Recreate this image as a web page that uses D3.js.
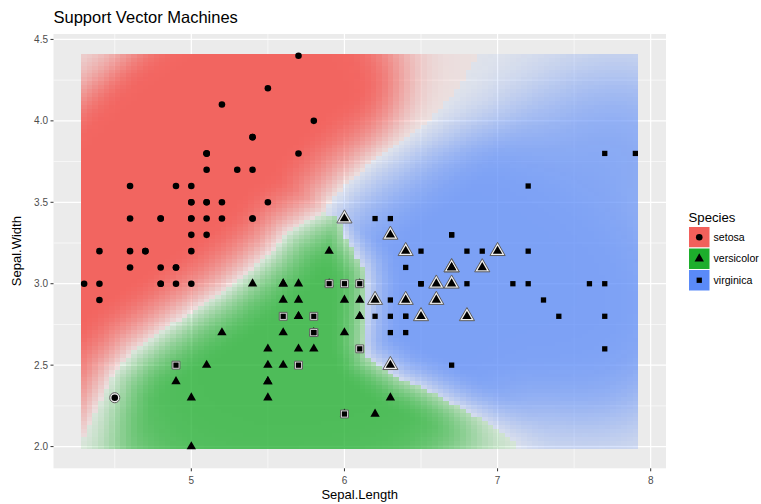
<!DOCTYPE html>
<html><head><meta charset="utf-8">
<script src="https://cdn.jsdelivr.net/npm/d3@7"></script>
<style>
body{margin:0;background:#fff}
svg{display:block}
text{font-family:"Liberation Sans",Arial,Helvetica,sans-serif}
</style>
</head><body>
<svg id="chart" width="761" height="504"></svg>
<script>
// ---- iris data (Sepal.Length / Sepal.Width) ----
const setosaLength = [5.1,4.9,4.7,4.6,5.0,5.4,4.6,5.0,4.4,4.9,5.4,4.8,4.8,4.3,5.8,5.7,5.4,5.1,5.7,5.1,5.4,5.1,4.6,5.1,4.8,5.0,5.0,5.2,5.2,4.7,4.8,5.4,5.2,5.5,4.9,5.0,5.5,4.9,4.4,5.1,5.0,4.5,4.4,5.0,5.1,4.8,5.1,4.6,5.3,5.0];
const setosaWidth  = [3.5,3.0,3.2,3.1,3.6,3.9,3.4,3.4,2.9,3.1,3.7,3.4,3.0,3.0,4.0,4.4,3.9,3.5,3.8,3.8,3.4,3.7,3.6,3.3,3.4,3.0,3.4,3.5,3.4,3.2,3.1,3.4,4.1,4.2,3.1,3.2,3.5,3.6,3.0,3.4,3.5,2.3,3.2,3.5,3.8,3.0,3.8,3.2,3.7,3.3];
const versicolorLength = [7.0,6.4,6.9,5.5,6.5,5.7,6.3,4.9,6.6,5.2,5.0,5.9,6.0,6.1,5.6,6.7,5.6,5.8,6.2,5.6,5.9,6.1,6.3,6.1,6.4,6.6,6.8,6.7,6.0,5.7,5.5,5.5,5.8,6.0,5.4,6.0,6.7,6.3,5.6,5.5,5.5,6.1,5.8,5.0,5.6,5.7,5.7,6.2,5.1,5.7];
const versicolorWidth  = [3.2,3.2,3.1,2.3,2.8,2.8,3.3,2.4,2.9,2.7,2.0,3.0,2.2,2.9,2.9,3.1,3.0,2.7,2.2,2.5,3.2,2.8,2.5,2.8,2.9,3.0,2.8,3.0,2.9,2.6,2.4,2.4,2.7,2.7,3.0,3.4,3.1,2.3,3.0,2.5,2.6,3.0,2.6,2.3,2.7,3.0,2.9,2.9,2.5,2.8];
const virginicaLength = [6.3,5.8,7.1,6.3,6.5,7.6,4.9,7.3,6.7,7.2,6.5,6.4,6.8,5.7,5.8,6.4,6.5,7.7,7.7,6.0,6.9,5.6,7.7,6.3,6.7,7.2,6.2,6.1,6.4,7.2,7.4,7.9,6.4,6.3,6.1,7.7,6.3,6.4,6.0,6.9,6.7,6.9,5.8,6.8,6.7,6.7,6.3,6.5,6.2,5.9];
const virginicaWidth  = [3.3,2.7,3.0,2.9,3.0,3.0,2.5,2.9,2.5,3.6,3.2,2.7,3.0,2.5,2.8,3.2,3.0,3.8,2.6,2.2,3.2,2.8,2.8,2.7,3.3,3.2,2.8,3.0,2.8,3.0,2.8,3.8,2.8,2.8,2.6,3.0,3.4,3.1,3.0,3.1,3.1,3.1,2.7,3.2,3.3,3.0,2.5,3.0,3.4,3.0];

// rows (1-based within species) drawn with an outline (misclassified by the SVM)
const setosaMisclassified = [42];
const versicolorMisclassified = [1,2,3,5,7,9,16,23,25,26,27,28,36,37,48];
const virginicaMisclassified = [2,7,14,15,20,22,28,35,39,43,50];

// decision boundaries [Sepal.Length, Sepal.Width]
const boundaryRedBlue = [[6.87,4.42],[6.76,4.21],[6.56,4.01],[6.44,3.92],[6.30,3.82],[6.15,3.72],[6.02,3.62],[5.91,3.51],[5.87,3.44]];
const boundaryRedGreen = [[5.87,3.44],[5.78,3.40],[5.63,3.31],[5.52,3.19],[5.37,3.07],[5.19,2.94],[4.99,2.82],[4.80,2.70],[4.62,2.58],[4.49,2.45],[4.39,2.25],[4.32,2.09],[4.26,1.98]];
const boundaryGreenBlue = [[5.87,3.44],[5.95,3.41],[6.02,3.25],[6.05,3.21],[6.12,3.10],[6.14,3.00],[6.13,2.80],[6.12,2.64],[6.15,2.55],[6.24,2.49],[6.37,2.41],[6.52,2.35],[6.69,2.27],[6.87,2.18],[7.00,2.10],[7.11,2.02],[7.14,1.98]];

const speciesNames = ["setosa","versicolor","virginica"];
const speciesColors = ["#F2605B","#1DAE2C","#5A8AF8"];
const xTicks = [5,6,7,8];
const yTicks = [2.0,2.5,3.0,3.5,4.0,4.5];
const gridSize = 100;

// ---- build ----
const species = [
  {name:"setosa", xs:setosaLength, ys:setosaWidth, mis:setosaMisclassified, shape:d3.symbolCircle},
  {name:"versicolor", xs:versicolorLength, ys:versicolorWidth, mis:versicolorMisclassified, shape:d3.symbolTriangle},
  {name:"virginica", xs:virginicaLength, ys:virginicaWidth, mis:virginicaMisclassified, shape:d3.symbolSquare}
];
const points = [];
species.forEach((s,k)=>s.xs.forEach((v,i)=>points.push({x:v,y:s.ys[i],k,mis:s.mis.includes(i+1)})));

const svg = d3.select("#chart");
const P = {l:53.5, r:666, t:34, b:468.3};
const allX = points.map(p=>p.x), allY = points.map(p=>p.y);
const xMin=d3.min(allX), xMax=d3.max(allX), yMin=d3.min(allY), yMax=d3.max(allY);
const xStep=(xMax-xMin)/(gridSize-1), yStep=(yMax-yMin)/(gridSize-1);
const xLo=xMin-xStep/2, xHi=xMax+xStep/2, yLo=yMin-yStep/2, yHi=yMax+yStep/2;
const xPad=0.05*(xHi-xLo), yPad=0.05*(yHi-yLo);
const x = d3.scaleLinear().domain([xLo-xPad,xHi+xPad]).range([P.l,P.r]);
const y = d3.scaleLinear().domain([yLo-yPad,yHi+yPad]).range([P.b,P.t]);

// panel background and grid
svg.append("rect").attr("x",P.l).attr("y",P.t).attr("width",P.r-P.l).attr("height",P.b-P.t).attr("fill","#EBEBEB");
const g = svg.append("g");
const minorX = xTicks.map(t=>t-0.5).filter(t=>t>x.domain()[0]);
const minorY = yTicks.map(t=>t-0.25).filter(t=>t>y.domain()[0]);
g.selectAll(".mx").data(minorX).join("line").attr("x1",d=>x(d)).attr("x2",d=>x(d)).attr("y1",P.t).attr("y2",P.b).attr("stroke","#fff").attr("stroke-width",0.6);
g.selectAll(".my").data(minorY).join("line").attr("y1",d=>y(d)).attr("y2",d=>y(d)).attr("x1",P.l).attr("x2",P.r).attr("stroke","#fff").attr("stroke-width",0.6);
g.selectAll(".Mx").data(xTicks).join("line").attr("x1",d=>x(d)).attr("x2",d=>x(d)).attr("y1",P.t).attr("y2",P.b).attr("stroke","#fff").attr("stroke-width",1.2);
g.selectAll(".My").data(yTicks).join("line").attr("y1",d=>y(d)).attr("y2",d=>y(d)).attr("x1",P.l).attr("x2",P.r).attr("stroke","#fff").attr("stroke-width",1.2);

// ---- decision surface tiles ----
const ky = 163.2/153; // pixel aspect between axes
function segDist(px,py,line){
  let best=Infinity;
  for(let i=0;i<line.length-1;i++){
    const ax=line[i][0], ay=line[i][1]*ky, bx=line[i+1][0], by=line[i+1][1]*ky;
    const qx=px, qy=py*ky;
    const dx=bx-ax, dy=by-ay;
    let t=((qx-ax)*dx+(qy-ay)*dy)/(dx*dx+dy*dy); t=Math.max(0,Math.min(1,t));
    const ex=ax+t*dx-qx, ey=ay+t*dy-qy;
    best=Math.min(best,Math.hypot(ex,ey));
  }
  return best;
}
const RB=boundaryRedBlue, RG=boundaryRedGreen, GB=boundaryGreenBlue;
const setosaPoly = [[3.5,5],[RB[0][0],5],...RB,...RG.slice(1),[RG[RG.length-1][0],1.5],[3.5,1.5]];
const versicolorPoly = [...RG,[RG[RG.length-1][0],1.5],[GB[GB.length-1][0],1.5],...GB.slice().reverse()];
const lines = {RB, RG, GB};
const model = [
  {amax:0.97, sigma:0.3, k:3.2, bounds:[["RB",0.45,0],["RG",0.4,0]]},
  {amax:0.76, sigma:0.33, k:0.9, bounds:[["RG",0.35,0],["GB",0.22,0.3]]},
  {amax:0.76, sigma:0.33, k:0.9, bounds:[["RB",0.55,0],["GB",0.25,0.15]]}
];
const ease = t=> t>=1?1:t*(2-t);
const tiles=[];
for(let i=0;i<gridSize;i++){
  for(let j=0;j<gridSize;j++){
    const tx=xMin+i*xStep, ty=yMin+j*yStep;
    let k = d3.polygonContains(setosaPoly,[tx,ty]) ? 0 : (d3.polygonContains(versicolorPoly,[tx,ty]) ? 1 : 2);
    const m=model[k];
    let bf=1;
    m.bounds.forEach(([name,w,b0])=>{ const d=segDist(tx,ty,lines[name]); bf=Math.min(bf, b0+(1-b0)*ease(d/w)); });
    let dens=0; const s2=2*m.sigma*m.sigma;
    points.forEach(p=>{ if(p.k===k){ const dx=p.x-tx, dy=p.y-ty; dens+=Math.exp(-(dx*dx+dy*dy)/s2);} });
    const df=1-Math.exp(-m.k*dens);
    const a=0.08+(m.amax-0.08)*bf*df;
    tiles.push({x:tx,y:ty,k,a});
  }
}
const tw = x(xStep)-x(0), th = y(0)-y(yStep);
svg.append("g").attr("shape-rendering","crispEdges")
  .selectAll("rect").data(tiles).join("rect")
  .attr("x",d=>x(d.x)-tw/2).attr("y",d=>y(d.y)-th/2).attr("width",tw).attr("height",th)
  .attr("fill",d=>speciesColors[d.k]).attr("fill-opacity",d=>d.a);

// ---- points ----
const sizeNormal=[34,38,28], sizeOuter=[80,100,62];
const pts = svg.append("g");
pts.selectAll("path.p").data(points).join("path")
  .attr("transform",d=>`translate(${x(d.x)},${y(d.y)})`)
  .attr("d",d=>d3.symbol(species[d.k].shape,sizeNormal[d.k])())
  .attr("fill","#000");
const mis = points.filter(p=>p.mis);
pts.selectAll("path.o").data(mis).join("path")
  .attr("transform",d=>`translate(${x(d.x)},${y(d.y)})`)
  .attr("d",d=>d3.symbol(species[d.k].shape,sizeOuter[d.k])())
  .attr("fill","#EEEEEE").attr("stroke","#5E5E5E").attr("stroke-width",1);
pts.selectAll("path.i").data(mis).join("path")
  .attr("transform",d=>`translate(${x(d.x)},${y(d.y)})`)
  .attr("d",d=>d3.symbol(species[d.k].shape,sizeNormal[d.k])())
  .attr("fill","#000");

// ---- axes ----
const ax = svg.append("g");
ax.selectAll(".yt").data(yTicks).join("line").attr("x1",P.l-3).attr("x2",P.l).attr("y1",d=>y(d)).attr("y2",d=>y(d)).attr("stroke","#333").attr("stroke-width",1);
ax.selectAll(".yl").data(yTicks).join("text").attr("x",P.l-5.5).attr("y",d=>y(d)+3.6).attr("text-anchor","end")
  .attr("font-size",10).attr("fill","#4D4D4D").text(d=>d3.format(".1f")(d));
ax.selectAll(".xt").data(xTicks).join("line").attr("y1",P.b).attr("y2",P.b+3).attr("x1",d=>x(d)).attr("x2",d=>x(d)).attr("stroke","#333").attr("stroke-width",1);
ax.selectAll(".xl").data(xTicks).join("text").attr("x",d=>x(d)).attr("y",P.b+15.5).attr("text-anchor","middle")
  .attr("font-size",10).attr("fill","#4D4D4D").text(d=>d3.format("d")(d));
svg.append("text").attr("x",(P.l+P.r)/2).attr("y",499).attr("text-anchor","middle").attr("font-size",13).attr("fill","#000").text("Sepal.Length");
svg.append("text").attr("transform",`translate(21,${(P.t+P.b)/2}) rotate(-90)`).attr("text-anchor","middle").attr("font-size",13).attr("fill","#000").text("Sepal.Width");
svg.append("text").attr("x",P.l).attr("y",22.7).attr("font-size",16.5).attr("fill","#000").text("Support Vector Machines");

// ---- legend ----
const L = {x:688.5, y:226.5, s:21.5};
svg.append("text").attr("x",L.x).attr("y",222).attr("font-size",13.2).attr("fill","#000").text("Species");
const lg = svg.append("g");
speciesNames.forEach((n,k)=>{
  const yy=L.y+k*L.s;
  lg.append("rect").attr("x",L.x).attr("y",yy).attr("width",L.s).attr("height",L.s).attr("fill",speciesColors[k]).attr("stroke","#fff").attr("stroke-width",1);
  lg.append("path").attr("transform",`translate(${L.x+L.s/2},${yy+L.s/2})`).attr("d",d3.symbol(species[k].shape,sizeNormal[k])()).attr("fill","#000");
  lg.append("text").attr("x",L.x+L.s+3.5).attr("y",yy+L.s/2+3.7).attr("font-size",10.6).attr("fill","#000").text(n);
});
</script>
</body></html>
